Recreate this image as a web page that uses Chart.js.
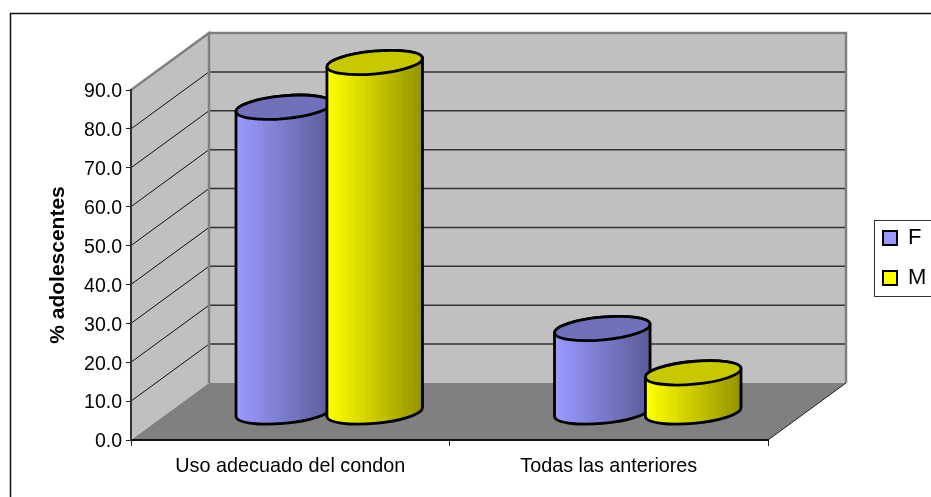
<!DOCTYPE html>
<html>
<head>
<meta charset="utf-8">
<script src="https://cdn.jsdelivr.net/npm/chart.js@4"></script>
<style>html,body{margin:0;padding:0;background:#fff}canvas{display:block}</style>
</head>
<body>
<canvas id="c" width="931" height="497"></canvas>
<script>
const categories = ["Uso adecuado del condon", "Todas las anteriores"];
const seriesF = [78.5, 21.6];
const seriesM = [90.0, 10.2];
const seriesNames = ["F", "M"];
const yTitle = "% adolescentes";

const swatch = ["#9999ff", "#ffff00"];
const bodyLight = [[153,153,255],[255,255,0]];
const bodyDark = [[92,92,153],[148,148,0]];
const topFill = ["#7070bb", "#c8c800"];
const WALL = {dx:78, dy:-57};
const BAR = {dx:39, dy:-27.5};
const FONT = "'Liberation Sans', Arial, sans-serif";

function bandGradient(ctx, x0, x1, i){
  const g = ctx.createLinearGradient(x0,0,x1,0), n = 26;
  for(let k=0;k<n;k++){
    const f = k/(n-1), c = bodyLight[i].map((v,j)=>Math.round(v+(bodyDark[i][j]-v)*f));
    const col = `rgb(${c})`;
    g.addColorStop(k/n,col); g.addColorStop((k+1)/n,col);
  }
  return g;
}

const walls = {
  id:"walls",
  beforeDraw(chart){
    const {ctx,chartArea:a,scales:{y}} = chart;
    const {dx,dy} = WALL;
    ctx.save();
    ctx.fillStyle="#fff"; ctx.fillRect(0,0,chart.width,chart.height);
    ctx.strokeStyle="#111"; ctx.lineWidth=1.5;
    ctx.beginPath(); ctx.moveTo(10.5,497); ctx.lineTo(10.5,13.5); ctx.lineTo(931,13.5); ctx.stroke();
    ctx.fillStyle="#c0c0c0";
    ctx.beginPath(); ctx.moveTo(a.left,a.top); ctx.lineTo(a.left+dx,a.top+dy); ctx.lineTo(a.left+dx,a.bottom+dy); ctx.lineTo(a.left,a.bottom); ctx.closePath(); ctx.fill();
    ctx.fillRect(a.left+dx,a.top+dy,a.right-a.left,a.bottom-a.top);
    ctx.fillStyle="#808080";
    ctx.beginPath(); ctx.moveTo(a.left,a.bottom); ctx.lineTo(a.right,a.bottom); ctx.lineTo(a.right+dx,a.bottom+dy); ctx.lineTo(a.left+dx,a.bottom+dy); ctx.closePath(); ctx.fill();
    y.ticks.forEach(t=>{
      if(t.value<=0||t.value>=y.max) return;
      const p=y.getPixelForValue(t.value);
      ctx.strokeStyle="#111"; ctx.lineWidth=1;
      ctx.beginPath(); ctx.moveTo(a.left,p); ctx.lineTo(a.left+dx,p+dy); ctx.stroke();
      ctx.strokeStyle="#333"; ctx.lineWidth=1.5;
      ctx.beginPath(); ctx.moveTo(a.left+dx,p+dy); ctx.lineTo(a.right+dx,p+dy); ctx.stroke();
    });
    ctx.strokeStyle="#808080"; ctx.lineWidth=2.5;
    ctx.beginPath(); ctx.moveTo(a.left,a.top); ctx.lineTo(a.left+dx,a.top+dy); ctx.lineTo(a.left+dx,a.bottom+dy);
    ctx.moveTo(a.left+dx,a.top+dy); ctx.lineTo(a.right+dx,a.top+dy); ctx.lineTo(a.right+dx,a.bottom+dy); ctx.stroke();
    ctx.strokeStyle="#222"; ctx.lineWidth=1;
    ctx.beginPath(); ctx.moveTo(a.right,a.bottom); ctx.lineTo(a.right+dx,a.bottom+dy); ctx.stroke();
    ctx.strokeStyle="#333"; ctx.lineWidth=1;
    ctx.strokeRect(874.5,220.5,70,76);
    ctx.restore();
  }
};

const cylinders = {
  id:"cylinders",
  afterDatasetsDraw(chart){
    const {ctx} = chart;
    const phi = -5.3*Math.PI/180, ry = 11.4;
    ctx.save();
    ctx.lineWidth=2.8; ctx.strokeStyle="#000"; ctx.lineJoin="round";
    chart.data.datasets.forEach((d,i)=>{
      chart.getDatasetMeta(i).data.forEach(b=>{
        const cx=b.x+BAR.dx, yt=b.y+BAR.dy, yb=b.base+BAR.dy, rx=b.width/2;
        const t0=Math.atan(-(ry/rx)*Math.tan(phi));
        ctx.beginPath();
        ctx.ellipse(cx,yb,rx,ry,phi,t0,t0+Math.PI,false);
        ctx.ellipse(cx,yt,rx,ry,phi,t0+Math.PI,t0,false);
        ctx.closePath();
        ctx.fillStyle=bandGradient(ctx,cx-rx,cx+rx,i);
        ctx.fill(); ctx.stroke();
        ctx.beginPath();
        ctx.ellipse(cx,yt,rx,ry,phi,0,2*Math.PI);
        ctx.fillStyle=topFill[i];
        ctx.fill(); ctx.stroke();
      });
    });
    ctx.restore();
  }
};

const legendPlace = {
  id:"legendPlace",
  afterLayout(chart){
    const l=chart.legend;
    const w=l.width,h=l.height;
    l.left=865; l.right=865+w; l.top=209; l.bottom=209+h;
  }
};

const chart = new Chart(document.getElementById("c"),{
  type:"bar",
  data:{
    labels:categories,
    datasets:[
      {label:seriesNames[0],data:seriesF,backgroundColor:"rgba(0,0,0,0)",borderWidth:0,categoryPercentage:0.571,barPercentage:1.055},
      {label:seriesNames[1],data:seriesM,backgroundColor:"rgba(0,0,0,0)",borderWidth:0,categoryPercentage:0.571,barPercentage:1.055}
    ]
  },
  options:{
    responsive:false,
    animation:false,
    devicePixelRatio:1,
    layout:{padding:{top:90,right:100,bottom:0,left:0}},
    plugins:{
      tooltip:{enabled:false},
      title:{display:false},
      legend:{
        position:"right",
        align:"start",
        labels:{
          boxWidth:14,boxHeight:14,padding:18,color:"#000",
          font:{family:FONT,size:22},
          generateLabels:c=>c.data.datasets.map((d,i)=>({text:d.label,fillStyle:swatch[i],strokeStyle:"#000",lineWidth:2,datasetIndex:i,hidden:false}))
        }
      }
    },
    scales:{
      x:{
        offset:true,
        grid:{display:true,drawOnChartArea:false,drawTicks:true,tickLength:6,color:"#222",offset:true},
        border:{color:"#111",width:2},
        ticks:{color:"#000",padding:9,maxRotation:0,font:{family:FONT,size:19.8}},
        afterFit(s){s.height=57;}
      },
      y:{
        min:0,max:90,
        grid:{display:true,drawOnChartArea:false,drawTicks:true,tickLength:5,color:"#222"},
        border:{color:"#333",width:2},
        ticks:{stepSize:10,color:"#000",padding:4,labelOffset:2,font:{family:FONT,size:19.5},callback:v=>Number(v).toFixed(1)},
        title:{display:true,text:yTitle,color:"#000",font:{family:FONT,size:21,weight:"bold"},padding:{top:46,bottom:0}},
        afterFit(s){s.width=131;}
      }
    }
  },
  plugins:[walls,cylinders,legendPlace]
});
chart.options.layout.padding.right = 931-768-chart.legend.width;
chart.update("none");
</script>
</body>
</html>
